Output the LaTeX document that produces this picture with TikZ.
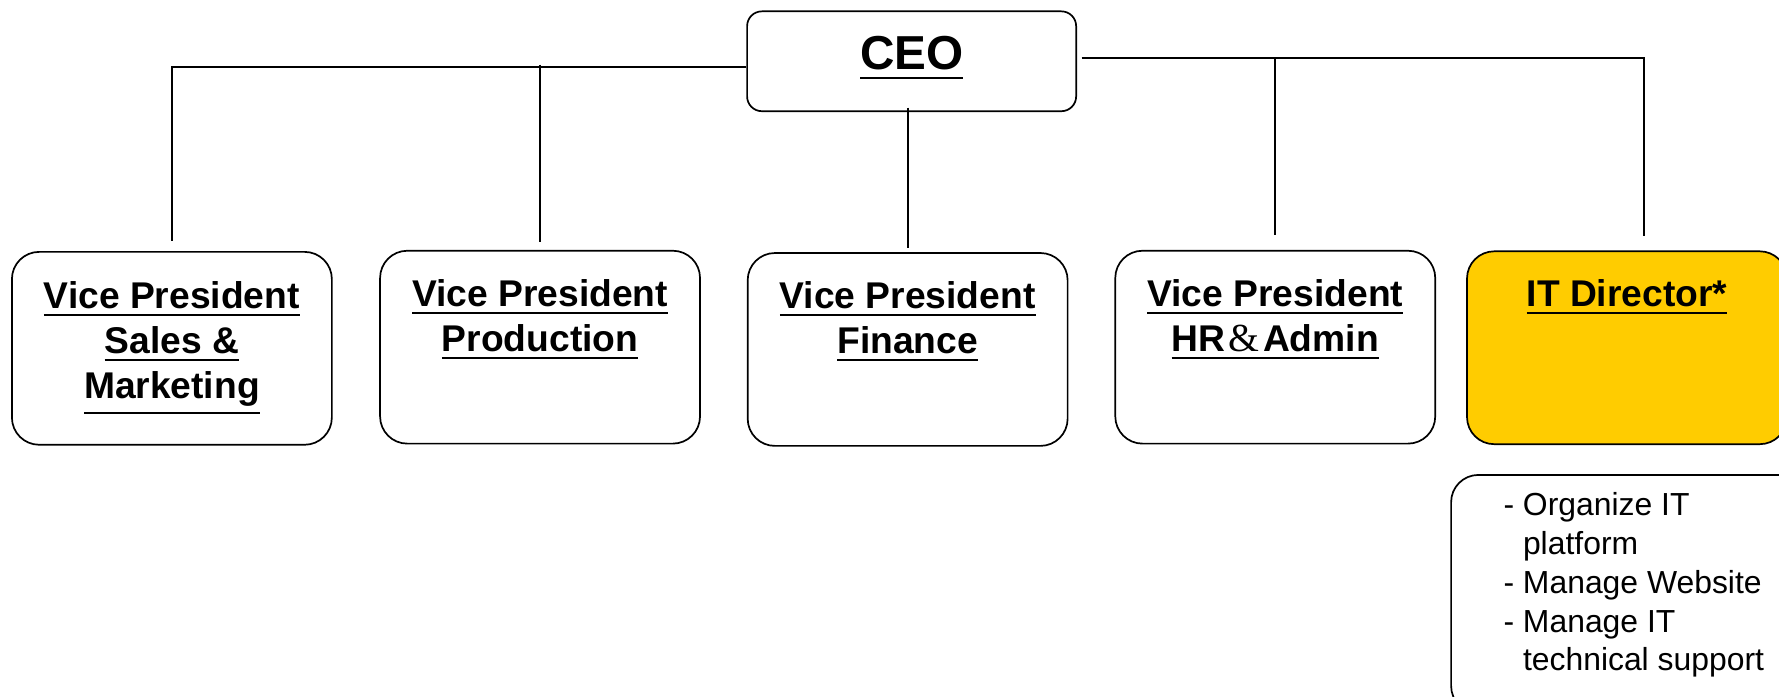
\documentclass[tikz,border=0pt]{standalone}
\usepackage{fontspec}
\setmainfont{Liberation Sans}
\newfontfamily\amperfont{Liberation Serif}
\definecolor{itgold}{HTML}{FFCC00}
\newcommand\myul[1]{\leavevmode\setbox0\hbox{#1}\dimen0=\dimexpr\dp0+0.14em\relax\rlap{\vrule height -\dimen0 depth \dimexpr\dimen0+2pt\relax width \wd0}\box0}
\begin{document}
\begin{tikzpicture}[x=1pt,y=-1pt,
  box/.style={draw=black,line width=1.5pt,rounded corners=24pt,inner sep=0pt,minimum width=282pt,minimum height=170pt},
  vptext/.style={font=\bfseries\fontsize{32.8}{39.6}\selectfont,align=center,anchor=north,inner sep=0pt},
  conn/.style={line width=1.5pt}]
\useasboundingbox (0,0) rectangle (1568,614);
\clip (0,0) rectangle (1568,614);
% boxes
\node[box,rounded corners=13pt,minimum width=290pt,minimum height=88pt] (ceo) at (803.5,54) {};
\node[box] (vps) at (151.5,307) {};
\node[box] (vpp) at (476,306) {};
\node[box] (vpf) at (800,308) {};
\node[box] (vph) at (1124,306) {};
\node[box,fill=itgold] (it) at (1434,306.5) {};
\node[box,minimum width=320pt,minimum height=210pt] (tasks) at (1439,523.6) {};
% texts
\node[font=\bfseries\fontsize{42}{50}\selectfont,anchor=north,inner sep=0pt] (ceot) at (803.5,32) {\myul{CEO}};
\node[vptext] (vpst) at (151.5,248) {\myul{Vice President}\\\myul{Sales \&}\\\myul{Marketing}};
\node[vptext] (vppt) at (476,246) {\myul{Vice President}\\\myul{Production}};
\node[vptext] (vpft) at (800,248) {\myul{Vice President}\\\myul{Finance}};
\node[vptext] (vpht) at (1124,246) {\myul{Vice President}\\\myul{HR\kern3pt{\mdseries\amperfont\fontsize{35}{39.6}\selectfont\&}\kern3pt Admin}};
\node[vptext] (itt) at (1434,246) {\myul{IT Director*}};
\node[anchor=north west,inner sep=0pt,align=left,font=\fontsize{28.1}{34.2}\selectfont] (taskt) at (1325,434)
  {- Organize IT\\\phantom{- }platform\\- Manage Website\\- Manage IT\\\phantom{- }technical support};
% connectors
\draw[conn] ([yshift=-5pt]ceo.west) -| ([yshift=9pt]vps.north);
\draw[conn] ([yshift=-3pt]ceo.west -| vpp.north) -- ([yshift=7pt]vpp.north);
\draw[conn] ([yshift=4pt]ceo.south -| vpf.north) -- ([yshift=4pt]vpf.north);
\draw[conn] ([xshift=4pt,yshift=3pt]ceo.east) -| ([xshift=15pt,yshift=13pt]it.north);
\draw[conn] ([yshift=3pt]ceo.east -| vph.north) -- ([yshift=13pt]vph.north);
\end{tikzpicture}
\end{document}
